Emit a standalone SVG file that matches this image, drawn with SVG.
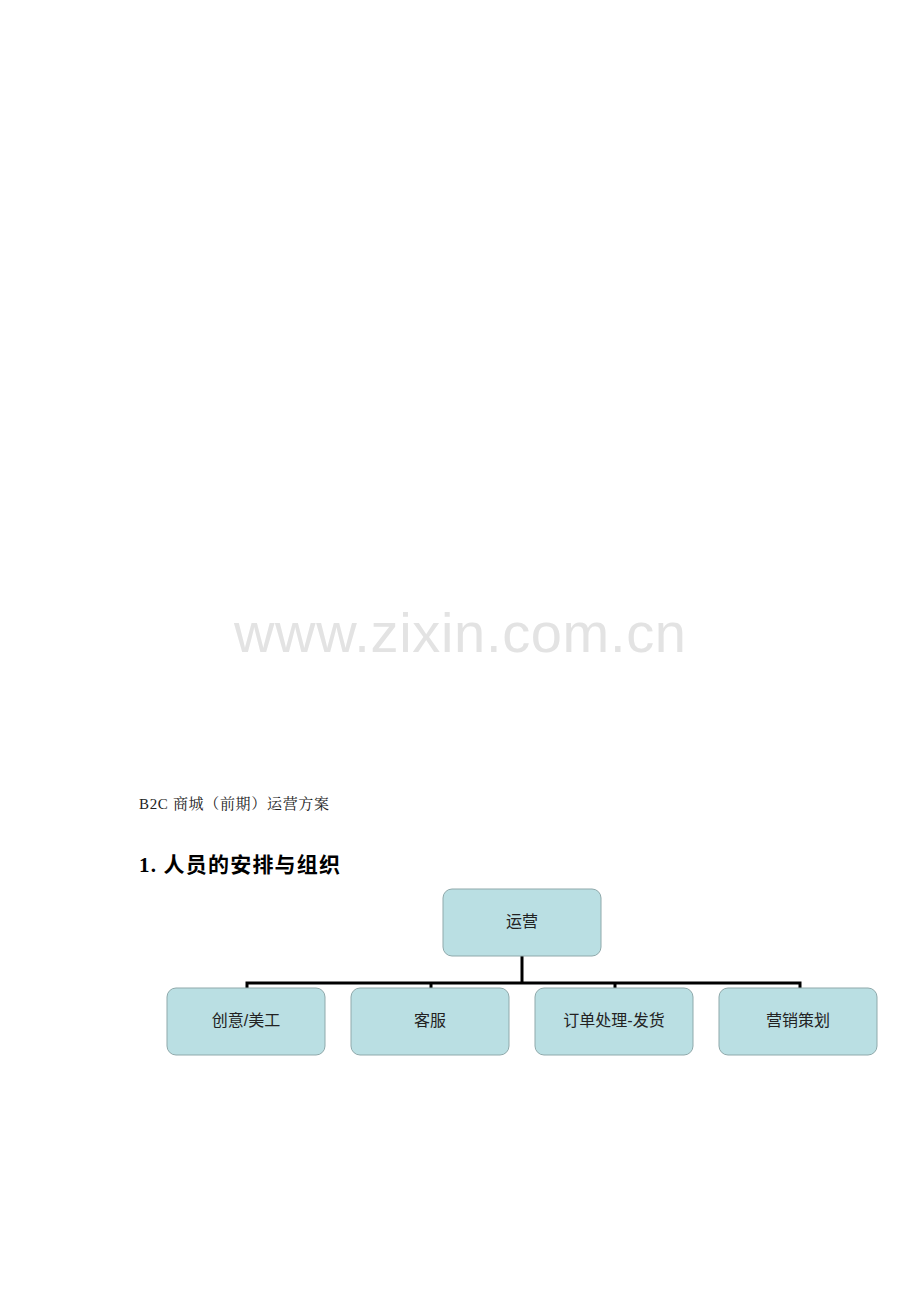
<svg xmlns="http://www.w3.org/2000/svg" width="920" height="1302" viewBox="0 0 920 1302">
<style>
.box{fill:#badfe3;stroke:#8fa9ab;stroke-width:1}
.lbl{font-family:"Liberation Sans","Noto Sans CJK SC",sans-serif;font-size:16px;fill:#222;text-anchor:middle}
.conn{stroke:#000;stroke-width:3;fill:none}
</style>
<rect width="920" height="1302" fill="#fff"/>
<text x="460" y="652" font-family="Liberation Sans,Arial,sans-serif" font-size="56" fill="#e3e3e3" text-anchor="middle" textLength="452">www.zixin.com.cn</text>
<text x="139" y="809" font-family="'Liberation Serif','Noto Serif CJK SC','Noto Sans CJK SC',serif" font-size="15" fill="#222" textLength="190" lengthAdjust="spacing">B2C 商城（前期）运营方案</text>
<text x="139" y="872" font-family="'Liberation Serif','Noto Sans CJK SC',serif" font-size="21" font-weight="bold" fill="#000" textLength="201" lengthAdjust="spacing">1. 人员的安排与组织</text>
<g id="connectors">
<path class="conn" d="M522 956 V983"/>
<path class="conn" d="M247 989 V983 H800 V989"/>
<path class="conn" d="M431 983 V989"/>
<path class="conn" d="M615 983 V989"/>
</g>
<g id="n0"><rect class="box" x="443" y="889" width="158" height="67" rx="9"/><text class="lbl" x="522" y="927">运营</text></g>
<g id="n1"><rect class="box" x="167" y="988" width="158" height="67" rx="9"/><text class="lbl" x="246" y="1026">创意/美工</text></g>
<g id="n2"><rect class="box" x="351" y="988" width="158" height="67" rx="9"/><text class="lbl" x="430" y="1026">客服</text></g>
<g id="n3"><rect class="box" x="535" y="988" width="158" height="67" rx="9"/><text class="lbl" x="614" y="1026">订单处理-发货</text></g>
<g id="n4"><rect class="box" x="719" y="988" width="158" height="67" rx="9"/><text class="lbl" x="798" y="1026">营销策划</text></g>
</svg>
